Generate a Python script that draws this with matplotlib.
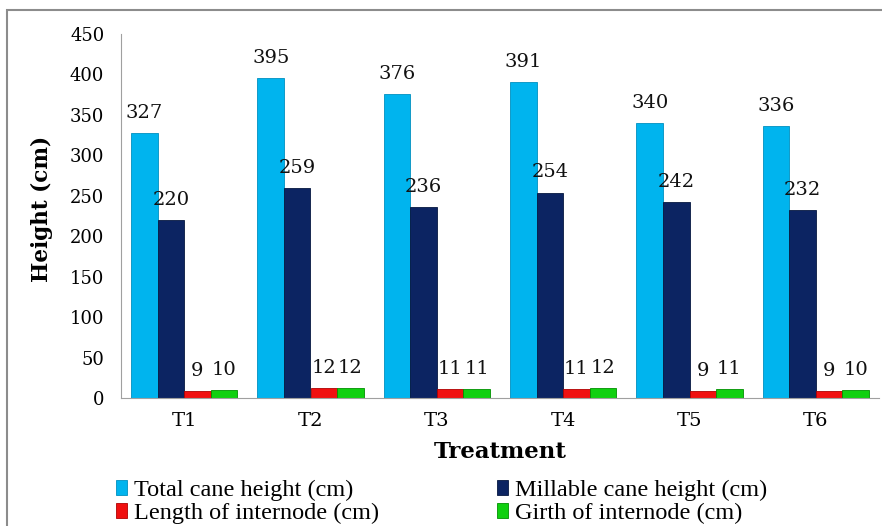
import numpy as np
import matplotlib
matplotlib.use("Agg")
import matplotlib.pyplot as plt
from matplotlib.patches import Rectangle

treatments = ["T1", "T2", "T3", "T4", "T5", "T6"]
total_cane = [327, 395, 376, 391, 340, 336]
millable_cane = [220, 259, 236, 254, 242, 232]
internode_length = [9, 12, 11, 11, 9, 9]
internode_girth = [10, 12, 11, 12, 11, 10]

series = [
    ("Total cane height (cm)", total_cane, "#00B4EE", "#0090C0"),
    ("Millable cane height (cm)", millable_cane, "#0C2462", "#061840"),
    ("Length of internode (cm)", internode_length, "#F01010", "#B00000"),
    ("Girth of internode (cm)", internode_girth, "#10D010", "#009000"),
]

fig = plt.figure(figsize=(8.82, 5.26), dpi=100)
# outer chart border (cropped at right/bottom like the picture)
fig.patches.append(Rectangle((7 / 882, -0.05), 1.0, 1 - 10 / 526 + 0.05,
                             transform=fig.transFigure, fill=False,
                             edgecolor="#8c8c8c", linewidth=1.5))

ax = fig.add_axes([121 / 882, 1 - 398 / 526, 758 / 882, 364 / 526])

x = np.arange(len(treatments))
w = 0.21
offsets = np.array([-1.5, -0.5, 0.5, 1.5]) * w
handles = []
for (name, vals, col, edge), off in zip(series, offsets):
    bars = ax.bar(x + off, vals, w, color=col, edgecolor=edge, linewidth=0.6,
                  label=name, zorder=2)
    handles.append(bars)
    for xi, v in zip(x + off, vals):
        ax.annotate(str(v), (xi, v), xytext=(0, 8), textcoords="offset points",
                    ha="center", va="bottom", fontsize=14,
                    family="DejaVu Serif", color="#111111")

ax.set_xlim(-0.5, len(treatments) - 0.5)
ax.set_ylim(0, 450)
ax.set_yticks(np.arange(0, 451, 50))
ax.set_xticks(x)
ax.set_xticklabels(treatments)
ax.tick_params(axis="y", length=0, labelsize=13, pad=12)
ax.tick_params(axis="x", length=0, labelsize=14, pad=10)
for lab in ax.get_xticklabels() + ax.get_yticklabels():
    lab.set_family("DejaVu Serif")

for s in ["top", "right"]:
    ax.spines[s].set_visible(False)
ax.spines["left"].set_color("#a0a0a0")
ax.spines["bottom"].set_color("#a0a0a0")

ax.set_ylabel("Height (cm)", fontsize=15.5, fontweight="bold",
              family="DejaVu Serif")
ax.yaxis.set_label_coords(-0.09, 0.52)
ax.set_xlabel("Treatment", fontsize=16.5, fontweight="bold",
              family="DejaVu Serif", labelpad=8)

order = [0, 2, 1, 3]
fig.legend([handles[i] for i in order], [series[i][0] for i in order],
           ncol=2, loc="upper left", bbox_to_anchor=(116 / 882, 1 - 480 / 526),
           frameon=False, handlelength=0.45, handleheight=0.55,
           handletextpad=0.3, columnspacing=4.85, labelspacing=0.08,
           borderpad=0, borderaxespad=0,
           prop={"family": "Liberation Serif", "size": 17.5})

fig.savefig("out.png", dpi=100)
